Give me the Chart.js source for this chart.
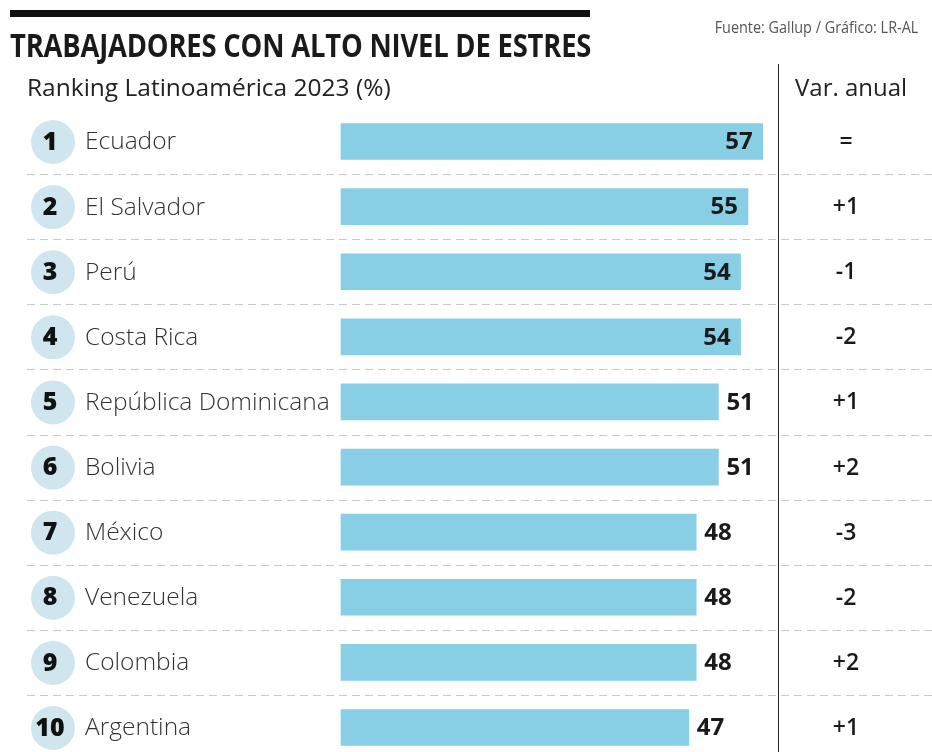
<!DOCTYPE html>
<html>
<head>
<meta charset="utf-8">
<script src="https://cdn.jsdelivr.net/npm/chart.js@4.4.1/dist/chart.umd.min.js"></script>
<style>
  html, body { margin: 0; padding: 0; background: #fff; }
  body { width: 932px; height: 752px; position: relative; overflow: hidden; font-family: "Open Sans", sans-serif; color: #222; }
  #wrap { position: absolute; left: 0; top: 0; width: 932px; height: 752px; }
  .topbar { position: absolute; left: 10px; top: 10px; width: 580px; height: 7px; background: #111; }
  .title { position: absolute; left: 10px; top: 23px; font-size: 32px; font-weight: 700; white-space: nowrap;
           transform: scaleX(0.855); transform-origin: left top; letter-spacing: -0.2px; color: #1a1a1a; }
  .source { position: absolute; right: 14px; top: 16px; font-size: 16px; color: #555; white-space: nowrap;
            transform: scaleX(0.9); transform-origin: right top; }
  .subtitle { position: absolute; left: 27px; top: 70px; font-size: 24.5px; white-space: nowrap; }
  .varhead { position: absolute; left: 795px; top: 70px; font-size: 24px; white-space: nowrap; }
</style>
</head>
<body>
<div id="wrap"><canvas id="c" width="932" height="752"></canvas></div>
<div class="topbar"></div>
<div class="title">TRABAJADORES CON ALTO NIVEL DE ESTRES</div>
<div class="source">Fuente: Gallup / Gráfico: LR-AL</div>
<div class="subtitle">Ranking Latinoamérica 2023 (%)</div>
<div class="varhead">Var. anual</div>
<script>
const countries = ['Ecuador', 'El Salvador', 'Perú', 'Costa Rica', 'República Dominicana',
                   'Bolivia', 'México', 'Venezuela', 'Colombia', 'Argentina'];
const ranks = [1, 2, 3, 4, 5, 6, 7, 8, 9, 10];
const stressPct = [57, 55, 54, 54, 51, 51, 48, 48, 48, 47];
const annualChange = ['=', '+1', '-1', '-2', '+1', '+2', '-3', '-2', '+2', '+1'];

const BAR_COLOR = '#88cee4';
const CIRCLE_COLOR = '#cfe6ef';

// draws rank circles, names, value labels, separators and the var. anual column
const rowDecor = {
    id: 'rowDecor',
    beforeDatasetsDraw(chart) {
        const ctx = chart.ctx;
        const y = chart.scales.y;
        ctx.save();
        // dashed separators between rows
        ctx.strokeStyle = '#c8c8c8';
        ctx.lineWidth = 1;
        ctx.setLineDash([8, 5]);
        for (let i = 0; i < countries.length - 1; i++) {
            const yy = Math.round((y.getPixelForValue(i) + y.getPixelForValue(i + 1)) / 2) + 0.5;
            ctx.beginPath();
            ctx.moveTo(27, yy);
            ctx.lineTo(932, yy);
            ctx.stroke();
        }
        ctx.setLineDash([]);
        // vertical divider
        ctx.strokeStyle = '#222';
        ctx.beginPath();
        ctx.moveTo(778.5, 64);
        ctx.lineTo(778.5, 752);
        ctx.stroke();
        ctx.restore();
    },
    afterDatasetsDraw(chart) {
        const ctx = chart.ctx;
        const meta = chart.getDatasetMeta(0);
        ctx.save();
        ctx.textBaseline = 'middle';
        meta.data.forEach((bar, i) => {
            const cy = bar.y;
            // rank circle
            ctx.fillStyle = CIRCLE_COLOR;
            ctx.beginPath();
            ctx.arc(53, cy + 0.5, 22, 0, Math.PI * 2);
            ctx.fill();
            ctx.fillStyle = '#111';
            ctx.font = '800 25px "Open Sans"';
            ctx.textAlign = 'center';
            ctx.fillText(String(ranks[i]), 50, cy + 1);
            // country name
            ctx.fillStyle = '#333';
            ctx.font = '300 24.5px "Open Sans"';
            ctx.textAlign = 'left';
            ctx.fillText(countries[i], 85, cy + 1);
            // value label
            const v = stressPct[i];
            ctx.fillStyle = '#1a1a1a';
            ctx.font = '700 24px "Open Sans"';
            if (v >= 54) {
                ctx.textAlign = 'right';
                ctx.fillText(String(v), bar.x - 10, cy + 1);
            } else {
                ctx.textAlign = 'left';
                ctx.fillText(String(v), bar.x + 8, cy + 1);
            }
            // annual change
            ctx.font = '600 23px "Open Sans"';
            ctx.textAlign = 'center';
            ctx.fillText(annualChange[i], 846, cy + 1);
        });
        ctx.restore();
    }
};

new Chart(document.getElementById('c'), {
    type: 'bar',
    data: {
        labels: countries,
        datasets: [{
            data: stressPct,
            backgroundColor: BAR_COLOR,
            borderWidth: 0,
            barThickness: 36,
            clip: false
        }]
    },
    options: {
        indexAxis: 'y',
        responsive: false,
        animation: false,
        devicePixelRatio: 1,
        layout: { padding: { left: 341, right: 6.4, top: 141.5, bottom: 24.5 } },
        plugins: { legend: { display: false }, tooltip: { enabled: false } },
        scales: {
            x: { display: false, min: 0, max: 79 },
            y: { display: false, offset: false }
        }
    },
    plugins: [rowDecor]
});
</script>
</body>
</html>
